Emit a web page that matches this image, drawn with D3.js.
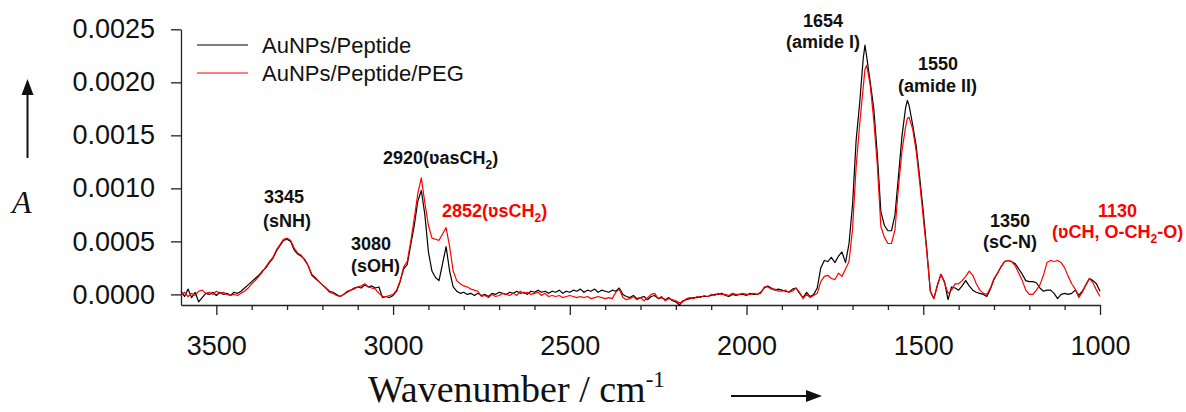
<!DOCTYPE html>
<html lang="en">
<head>
  <meta charset="UTF-8">
  <title>FTIR spectra</title>
  <script src="https://d3js.org/d3.v7.min.js"></script>
  <style>
    body { margin: 0; background: #fff; }
    svg { display: block; font-family: Arial, "Liberation Sans", sans-serif; }
    .axis path, .axis line { stroke: #222; stroke-width: 1.3px; }
    .axis text { font-size: 27px; fill: #111; }
    .note { font-size: 18px; font-weight: bold; }
    .serif { font-family: "Liberation Serif", "Times New Roman", serif; }
  </style>
</head>
<body>
  <svg id="chart" width="1186" height="412"></svg>
  <script>
    // wavenumber (cm-1), one row per 100 cm-1
    const wavenumbers = [
      3600, 3590, 3580, 3570, 3560, 3550, 3540, 3530, 3520, 3510,
      3500, 3490, 3480, 3470, 3460, 3450, 3440, 3430, 3420, 3410,
      3400, 3390, 3380, 3370, 3360, 3350, 3340, 3330, 3320, 3310,
      3300, 3290, 3280, 3270, 3260, 3250, 3240, 3230, 3220, 3210,
      3200, 3190, 3180, 3170, 3160, 3150, 3140, 3130, 3120, 3110,
      3100, 3090, 3080, 3070, 3060, 3050, 3040, 3030, 3020, 3010,
      3000, 2990, 2980, 2970, 2960, 2950, 2940, 2930, 2920, 2910,
      2900, 2890, 2880, 2870, 2860, 2850, 2840, 2830, 2820, 2810,
      2800, 2790, 2780, 2770, 2760, 2750, 2740, 2730, 2720, 2710,
      2700, 2690, 2680, 2670, 2660, 2650, 2640, 2630, 2620, 2610,
      2600, 2590, 2580, 2570, 2560, 2550, 2540, 2530, 2520, 2510,
      2500, 2490, 2480, 2470, 2460, 2450, 2440, 2430, 2420, 2410,
      2400, 2390, 2380, 2370, 2360, 2350, 2340, 2330, 2320, 2310,
      2300, 2290, 2280, 2270, 2260, 2250, 2240, 2230, 2220, 2210,
      2200, 2190, 2180, 2170, 2160, 2150, 2140, 2130, 2120, 2110,
      2100, 2090, 2080, 2070, 2060, 2050, 2040, 2030, 2020, 2010,
      2000, 1990, 1980, 1970, 1960, 1950, 1940, 1930, 1920, 1910,
      1900, 1890, 1880, 1870, 1860, 1850, 1840, 1830, 1820, 1810,
      1800, 1790, 1780, 1770, 1760, 1750, 1740, 1730, 1720, 1710,
      1700, 1690, 1680, 1670, 1665, 1660, 1650, 1640, 1630, 1620, 1610,
      1600, 1590, 1580, 1570, 1560, 1550, 1545, 1540, 1530, 1520, 1510,
      1500, 1490, 1480, 1470, 1460, 1450, 1440, 1430, 1420, 1410,
      1400, 1390, 1380, 1370, 1360, 1350, 1340, 1330, 1320, 1310,
      1300, 1290, 1280, 1270, 1260, 1250, 1240, 1230, 1220, 1210,
      1200, 1190, 1180, 1170, 1160, 1150, 1140, 1130, 1120, 1110,
      1100, 1090, 1080, 1070, 1060, 1050, 1040, 1030, 1020, 1010,
      1000
    ];

    // absorbance in units of 1e-5
    const peptide = [
      3, -2, 5, -3, 2, -7, -3, 1, 0, 2,
      -1, 2, 0, 1, -1, 2, 1, 3, 6, 9,
      12, 15, 18, 22, 25, 30, 34, 41, 46, 51,
      52, 50, 42, 38, 36, 33, 27, 18, 15, 12,
      9, 6, 3, 2, 0, -2, 0, 2, 4, 6,
      7, 6, 9, 7, 8, 6, 7, -3, -2, -3,
      -1, 3, 12, 24, 28, 47, 65, 88, 98, 75,
      40, 22, 16, 13, 29, 45, 22, 7, 3, 1,
      2, 0, 1, -1, 1, -1, 0, -2, 1, 0,
      2, 1, 0, 2, 1, 3, 1, 2, 0, 3,
      2, 4, 2, 3, 1, 3, 2, 4, 1, 3,
      2, 4, 3, 5, 2, 4, 3, 5, 2, 4,
      3, 2, 4, 3, 6, 0, -2, -3, -1, -4,
      -3, -2, -5, -2, -1, -4, -3, -5, -3, -6,
      -7, -10, -6, -5, -4, -3, -3, -2, -2, -2,
      -1, 0, 0, 1, -1, -2, 0, -1, 0, 0,
      -1, 1, 0, 0, 2, 6, 8, 6, 4, 5,
      4, 3, 2, 5, 6, 1, -3, 2, -2, 0,
      6, 25, 32, 31, 35, 30, 36, 40, 30, 48,
      85, 145, 180, 222, 235, 224, 200, 175, 132, 78, 65,
      60, 60, 75, 112, 150, 176, 183, 178, 160, 140, 110,
      78, 42, 3, -4, 9, 19, 12, -5, 7, 6,
      4, 8, 13, 8, 4, 2, 1, 0, -2, 5,
      14, 20, 26, 31, 32, 31, 29, 24, 19, 13,
      12, 12, 11, 6, 3, 4, 4, 1, -4, 0,
      1, 0, 1, 4, -1, 3, 9, 15, 13, 10,
      3
    ];

    const peptidePEG = [
      -1, 2, -2, 1, -1, 3, 4, 1, 2, 0,
      3, 1, 2, 0, -1, 0, -1, 1, 3, 6,
      10, 13, 17, 21, 26, 31, 35, 42, 47, 52,
      53, 51, 44, 39, 37, 32, 27, 19, 16, 12,
      9, 6, 2, 1, -1, -2, 0, 3, 4, 5,
      7, 8, 10, 7, 6, 5, 1, -2, -2, -1,
      0, 4, 13, 26, 31, 50, 72, 95, 110, 86,
      65, 53, 52, 51, 57, 63, 45, 22, 13, 10,
      8, 7, 5, 4, 3, -2, -1, -3, 0, -2,
      -1, 1, 0, -1, 1, -1, 3, 1, 2, 0,
      1, 2, -1, 1, -2, -1, -2, -1, -3, -2,
      -1, -2, -3, -2, -3, -2, -4, -3, -2, -3,
      -4, -3, -4, 2, 5, -3, -5, -4, -2, -5,
      -3, -6, -3, 0, 1, -4, -2, -6, -4, -5,
      -6, -8, -7, -4, -3, -4, -2, -3, -1, -2,
      0, -1, 1, 0, 0, -1, 1, 0, 0, 1,
      0, 0, 1, 0, 1, 7, 7, 5, 5, 3,
      3, 4, 2, 3, 6, 2, -4, 0, -3, -1,
      1, 12, 17, 18, 15, 14, 20, 17, 24, 31,
      62, 120, 160, 195, 212, 216, 197, 164, 122, 64, 54,
      48, 48, 61, 102, 136, 158, 166, 167, 156, 135, 105,
      72, 40, 3, -4, 8, 19, 11, 1, 4, 10,
      10, 13, 17, 22, 18, 10, 4, 1, 0, 6,
      15, 20, 26, 31, 32, 31, 27, 20, 13, 4,
      0, 0, 4, 9, 18, 30, 32, 31, 32, 30,
      25, 17, 10, 5, -3, 2, 9, 15, 11, 4,
      -2
    ];

    const xTicks = [3500, 3000, 2500, 2000, 1500, 1000];
    const yTicks = [0, 0.0005, 0.001, 0.0015, 0.002, 0.0025];
    const seriesNames = ["AuNPs/Peptide", "AuNPs/Peptide/PEG"];
    const seriesColors = ["#000", "#ff0000"];

    const svg = d3.select("#chart");

    const x = d3.scaleLinear().domain([3600, 1000]).range([181, 1100]);
    const y = d3.scaleLinear().domain([-0.0001, 0.0025]).range([305, 29.3]);

    // minor ticks every 100 cm-1
    const minor = d3.range(1100, 3500, 100).filter(v => v % 500 !== 0);
    svg.append("g")
      .attr("class", "axis")
      .attr("transform", "translate(0,305)")
      .call(d3.axisBottom(x).tickValues(minor).tickSize(5).tickSizeOuter(0).tickFormat(""))
      .select(".domain").remove();

    svg.append("g")
      .attr("class", "axis")
      .attr("transform", "translate(0,305)")
      .call(d3.axisBottom(x).tickValues(xTicks).tickSize(10).tickSizeOuter(0)
        .tickPadding(21).tickFormat(d3.format("d")));

    svg.append("g")
      .attr("class", "axis")
      .attr("transform", "translate(181,0)")
      .call(d3.axisLeft(y).tickValues(yTicks).tickSize(10).tickSizeOuter(0)
        .tickPadding(16).tickFormat(d3.format(".4f")));

    svg.selectAll(".axis text").attr("font-family", null).attr("font-size", null);

    // spectra
    const series = [peptide, peptidePEG];
    const line = d3.line()
      .x((d, i) => x(wavenumbers[i]))
      .y(d => y(d * 1e-5));

    series.forEach((s, k) => {
      svg.append("path")
        .datum(s)
        .attr("fill", "none")
        .attr("stroke", seriesColors[k])
        .attr("stroke-width", 1.2)
        .attr("stroke-linejoin", "round")
        .attr("d", line);
    });

    // legend
    seriesNames.forEach((name, k) => {
      const ly = 45 + k * 28;
      svg.append("line")
        .attr("x1", 197).attr("x2", 248).attr("y1", ly).attr("y2", ly)
        .attr("stroke", seriesColors[k]).attr("stroke-width", 1.2);
      svg.append("text")
        .attr("x", 262).attr("y", ly).attr("dy", "0.35em")
        .style("font-size", "22px").attr("fill", "#111")
        .text(name);
    });

    // peak labels, arrays hold [text] for subscripts
    function note(px, py, parts, color) {
      const t = svg.append("text").attr("class", "note")
        .attr("x", px).attr("y", py).attr("fill", color || "#111");
      let shift = 0;
      parts.forEach(p => {
        const sub = Array.isArray(p);
        const s = t.append("tspan").text(sub ? p[0] : p);
        const want = sub ? 5 : 0;
        if (want !== shift) { s.attr("dy", want - shift); shift = want; }
        if (sub) s.style("font-size", "12px");
      });
    }

    note(264, 203, ["3345"]);
    note(263, 227, ["(sNH)"]);
    note(351, 250, ["3080"]);
    note(351, 272, ["(sOH)"]);
    note(383, 164, ["2920(ʋasCH", ["2"], ")"]);
    note(442, 217, ["2852(ʋsCH", ["2"], ")"], "#ff0000");
    note(803, 27, ["1654"]);
    note(786, 48, ["(amide I)"]);
    note(918, 70, ["1550"]);
    note(898, 92, ["(amide II)"]);
    note(990, 227, ["1350"]);
    note(983, 248, ["(sC-N)"]);
    note(1098, 217, ["1130"], "#ff0000");
    note(1052, 238, ["(ʋCH, O-CH", ["2"], "-O)"], "#ff0000");

    // axis titles
    const xt = svg.append("text").attr("class", "serif")
      .attr("x", 368).attr("y", 402)
      .style("font-size", "38px").attr("fill", "#111");
    xt.append("tspan").text("Wavenumber / cm");
    xt.append("tspan").attr("dy", -15).style("font-size", "23px").text("-1");

    svg.append("line").attr("x1", 731).attr("x2", 810).attr("y1", 396).attr("y2", 396)
      .attr("stroke", "#111").attr("stroke-width", 2);
    svg.append("polygon").attr("points", "822,396 806,390 806,402").attr("fill", "#111");

    svg.append("text").attr("class", "serif")
      .attr("x", 12).attr("y", 213)
      .style("font-size", "32px").style("font-style", "italic").attr("fill", "#111")
      .text("A");

    svg.append("line").attr("x1", 27.5).attr("x2", 27.5).attr("y1", 158).attr("y2", 92)
      .attr("stroke", "#111").attr("stroke-width", 2);
    svg.append("polygon").attr("points", "27.5,79 21.5,95 33.5,95").attr("fill", "#111");
  </script>
</body>
</html>
